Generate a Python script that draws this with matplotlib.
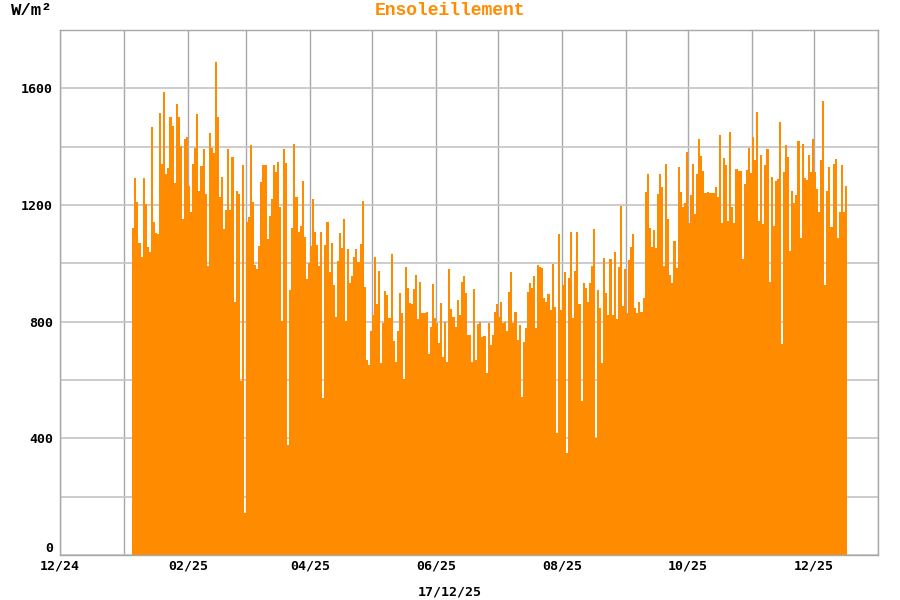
import numpy as np
import pandas as pd
import matplotlib
matplotlib.use("Agg")
import matplotlib.pyplot as plt
import matplotlib.dates as mdates

# daily solar irradiance peaks, W/m2, first day 2025-01-05
from_0105 = [1120, 1294, 1209, 1071, 1021, 1294, 1202, 1057, 1038, 1466, 1143, 1103, 1101,
             1514, 1342, 1589, 1308, 1326, 1502, 1470, 1274, 1546, 1503, 1402, 1151, 1425,
             1432, 1265, 1177, 1341, 1394, 1512, 1249, 1334, 1391, 1237, 992]
from_0211 = [1447, 1397, 1377, 1689, 1503, 1229, 1297, 1117, 1183, 1393, 1183, 1366, 869,
             1249, 1238, 597, 1337, 145, 1143, 1158, 1407, 1209, 994, 980, 1060, 1280, 1338,
             1338, 1085, 1164, 1222, 1338, 1313, 1348, 1194, 801, 1391, 1343]
from_0321 = [377, 909, 1120, 1408, 1226, 1109, 1129, 1281, 1092, 945, 1000, 1060, 1220, 1108,
             1063, 992, 1106, 540, 1062, 1143, 972, 1071, 926, 817, 1009, 1103, 1053, 1153,
             804, 1048, 932, 957, 1023, 1048, 1006, 1066, 1214, 920]
from_0428 = [669, 651, 768, 823, 1021, 861, 974, 660, 794, 905, 892, 814, 1031, 734, 663, 768,
             900, 829, 603, 989, 914, 865, 861, 911, 961, 808, 935, 829, 829, 832, 688, 781,
             929, 814, 794, 726, 865, 680, 800]
from_0606 = [663, 981, 844, 815, 783, 874, 823, 935, 957, 900, 754, 754, 663, 911, 669, 792,
             798, 749, 752, 623, 794, 720, 754, 832, 861, 817, 866, 794, 800, 769, 901, 969,
             794, 832, 737, 789, 543, 731, 777]
from_0715 = [903, 932, 914, 958, 779, 994, 989, 983, 880, 869, 894, 840, 998, 849, 419, 1100,
             840, 926, 969, 351, 949, 1109, 814, 975, 1109, 861, 529, 932, 916, 868, 934, 991,
             1117, 400, 909, 848, 657, 1020, 900]
from_0823 = [823, 1014, 823, 1038, 808, 989, 1198, 854, 980, 831, 1012, 1057, 1101, 846, 829,
             866, 832, 880, 1246, 1306, 1120, 1057, 1114, 1054, 1237, 1305, 1263, 992, 1341,
             1151, 960, 934, 1077, 983, 1329, 1246, 1194, 1208, 1383]
from_1001 = [1137, 1234, 1341, 1168, 1306, 1426, 1369, 1318, 1240, 1244, 1240, 1240, 1240,
             1262, 1229, 1441, 1137, 1361, 1337, 1146, 1450, 1194, 1137, 1324, 1318, 1318,
             1015, 1271, 1320, 1397, 1309, 1434, 1354, 1519, 1146, 1370, 1135, 1337, 1393]
from_1109 = [935, 1297, 1128, 1282, 1289, 1485, 723, 1314, 1407, 1366, 1044, 1248, 1206, 1234,
             1419, 1086, 1408, 1294, 1286, 1370, 1313, 1426, 1314, 1256, 1175, 1354, 1558, 925,
             1248, 1332, 1126, 1340, 1359, 1086, 1177, 1336, 1177, 1264]

start_day = "2025-01-05"
title = "Ensoleillement"
unit = "W/m\u00b2"
stamp = "17/12/25"

vals = np.array(from_0105 + from_0211 + from_0321 + from_0428 + from_0606 +
                from_0715 + from_0823 + from_1001 + from_1109)
days = pd.date_range(start_day, periods=len(vals), freq="D")

orange = "#ff8c00"
mono = "DejaVu Sans Mono"

fig = plt.figure(figsize=(9, 6), dpi=100)
ax = fig.add_axes([60 / 900, 45 / 600, 818 / 900, 525 / 600])

ax.bar(days, vals, width=1.0, align="edge", color=orange, linewidth=0, zorder=2)

ax.set_xlim(pd.Timestamp("2024-12-01"), pd.Timestamp("2026-01-01"))
ax.set_ylim(0, 1800)

ax.xaxis.set_major_locator(mdates.MonthLocator(bymonth=[12, 2, 4, 6, 8, 10]))
ax.xaxis.set_major_formatter(mdates.DateFormatter("%m/%y"))
ax.xaxis.set_minor_locator(mdates.MonthLocator())
ax.set_yticks(np.arange(0, 1601, 400))
ax.set_yticks(np.arange(0, 1801, 200), minor=True)

ax.grid(axis="x", which="both", color="#a8a8a8", lw=1, zorder=0)
ax.grid(axis="y", which="both", color="#c4c4c4", lw=1.2, zorder=0)
ax.set_axisbelow(True)

ax.tick_params(which="both", length=0)
ax.tick_params(axis="y", pad=5)
ax.tick_params(axis="x", pad=3)
for lab in ax.get_xticklabels() + ax.get_yticklabels():
    lab.set_fontfamily(mono)
    lab.set_fontweight("bold")
    lab.set_fontsize(9.5)
# the zero label sits just above the bottom frame, as in the original
ax.get_yticklabels()[0].set_verticalalignment("bottom")

for s in ax.spines.values():
    s.set_color("#a8a8a8")
    s.set_linewidth(1)

fig.text(0.5, 0.983, title, ha="center", va="center", color=orange,
         family="Liberation Mono", weight="bold", fontsize=13)
fig.text(0.012, 0.982, unit, ha="left", va="center", color="black",
         family="Liberation Mono", weight="bold", fontsize=12.5)
fig.text(0.5, 0.013, stamp, ha="center", va="center", color="black",
         family=mono, weight="bold", fontsize=9.5)

fig.savefig("out.png", dpi=100)
